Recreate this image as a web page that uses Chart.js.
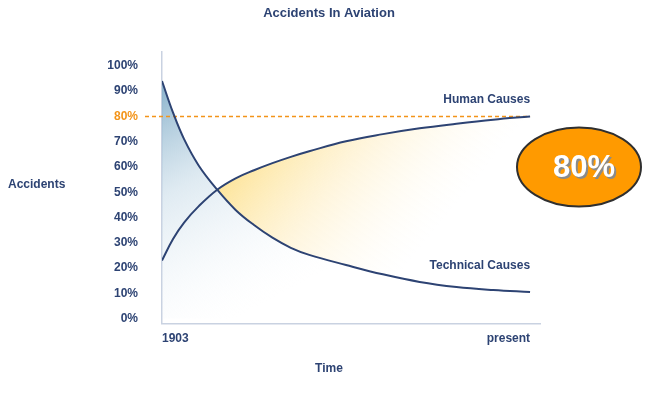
<!DOCTYPE html>
<html>
<head>
<meta charset="utf-8">
<title>Accidents In Aviation</title>
<script src="https://cdn.jsdelivr.net/npm/chart.js@4/dist/chart.umd.min.js"></script>
<style>
    html, body { margin: 0; padding: 0; background: #ffffff; }
    #wrap { width: 651px; height: 393px; }
</style>
</head>
<body>
<div id="wrap"><canvas id="chart" width="651" height="393"></canvas></div>
<script>
// Values (time is 0 = 1903 .. 100 = present)
const timeX = [0, 3, 6, 10, 15, 20, 25, 30, 35, 40, 50, 60, 70, 80, 90, 100];
const technicalCauses = [94, 81.5, 71, 60.5, 51, 43, 37, 32, 28, 25.2, 21.2, 17.5, 14.5, 12.5, 11.3, 10.5];
const humanCauses = [23, 31.5, 38, 44.5, 51, 55.5, 58.7, 61.5, 64, 66.2, 70.2, 73, 75.3, 77.1, 78.7, 80];
const xTicks = [0, 100];
const xTickLabels = ['1903', 'present'];
const yTicks = [0, 10, 20, 30, 40, 50, 60, 70, 80, 90, 100];
const highlightValue = 80;

const NAVY = '#2d4373';
const ORANGE = '#f39419';
const AXIS = '#c9d2e1';
const FONT = "'Liberation Sans', Arial, sans-serif";

function toPoints(values) {
    return values.map((v, i) => ({ x: timeX[i], y: v }));
}

function blueFill(ctx) {
    const chart = ctx.chart;
    if (!chart.chartArea) return 'rgba(0,0,0,0)';
    const xs = chart.scales.x, ys = chart.scales.y;
    const g = chart.ctx.createLinearGradient(xs.getPixelForValue(0), ys.getPixelForValue(90),
        xs.getPixelForValue(30), ys.getPixelForValue(8));
    g.addColorStop(0, 'rgba(125, 170, 198, 0.85)');
    g.addColorStop(0.4, 'rgba(185, 210, 226, 0.45)');
    g.addColorStop(1, 'rgba(240, 245, 250, 0)');
    return g;
}

function yellowFill(ctx) {
    const chart = ctx.chart;
    if (!chart.chartArea) return 'rgba(0,0,0,0)';
    const xs = chart.scales.x, ys = chart.scales.y;
    const g = chart.ctx.createLinearGradient(xs.getPixelForValue(18), ys.getPixelForValue(60),
        xs.getPixelForValue(60), ys.getPixelForValue(10));
    g.addColorStop(0, 'rgba(253, 226, 145, 0.95)');
    g.addColorStop(0.45, 'rgba(254, 238, 195, 0.6)');
    g.addColorStop(1, 'rgba(255, 250, 235, 0)');
    return g;
}

// Extra drawing: horizontal y label, 80% dashed line, series names, badge
const decorations = {
    id: 'decorations',
    beforeDatasetsDraw(chart) {
        const { ctx } = chart;
        const xs = chart.scales.x, ys = chart.scales.y;
        const yy = ys.getPixelForValue(highlightValue);
        ctx.save();
        ctx.strokeStyle = ORANGE;
        ctx.lineWidth = 1.5;
        ctx.setLineDash([4, 3]);
        ctx.beginPath();
        ctx.moveTo(145, yy);
        ctx.lineTo(xs.getPixelForValue(100), yy);
        ctx.stroke();
        ctx.restore();
    },
    afterDraw(chart) {
        const { ctx } = chart;
        const xs = chart.scales.x, ys = chart.scales.y;
        ctx.save();
        ctx.fillStyle = NAVY;
        ctx.font = 'bold 12px ' + FONT;
        ctx.textBaseline = 'middle';
        ctx.textAlign = 'left';
        ctx.fillText('Accidents', 8, 185);

        const xr = xs.getPixelForValue(100);
        ctx.textAlign = 'right';
        ctx.fillText('Human Causes', xr, ys.getPixelForValue(humanCauses[humanCauses.length - 1]) - 17);
        ctx.fillText('Technical Causes', xr, ys.getPixelForValue(technicalCauses[technicalCauses.length - 1]) - 26);

        // orange badge
        const cx = 579, cy = 167;
        ctx.beginPath();
        ctx.ellipse(cx, cy, 62, 39.5, 0, 0, Math.PI * 2);
        ctx.fillStyle = '#ff9a00';
        ctx.fill();
        ctx.lineWidth = 2;
        ctx.strokeStyle = '#2f2f2f';
        ctx.stroke();

        ctx.font = 'bold 31px ' + FONT;
        ctx.textAlign = 'center';
        ctx.fillStyle = '#8a8a8a';
        ctx.fillText('80%', cx + 7, cy + 3);
        ctx.fillStyle = '#ffffff';
        ctx.fillText('80%', cx + 5, cy + 1);
        ctx.restore();
    }
};

new Chart(document.getElementById('chart'), {
    type: 'line',
    data: {
        datasets: [
            {
                label: 'Technical Causes',
                data: toPoints(technicalCauses),
                borderColor: NAVY,
                borderWidth: 2,
                backgroundColor: blueFill,
                fill: 'origin',
                pointRadius: 0,
                tension: 0.4
            },
            {
                label: 'Human Causes',
                data: toPoints(humanCauses),
                borderColor: NAVY,
                borderWidth: 2,
                backgroundColor: yellowFill,
                fill: { target: 0, below: 'rgba(0,0,0,0)' },
                pointRadius: 0,
                tension: 0.4
            }
        ]
    },
    options: {
        responsive: false,
        animation: false,
        layout: { padding: { left: 7, right: 0, top: 0, bottom: 0 } },
        plugins: {
            legend: { display: false },
            tooltip: { enabled: false },
            filler: { drawTime: 'beforeDatasetsDraw' },
            title: {
                display: true,
                text: 'Accidents In Aviation',
                color: NAVY,
                font: { family: FONT, size: 13, weight: 'bold' },
                padding: { top: 6, bottom: 30.4 }
            },
            subtitle: {
                display: true,
                position: 'bottom',
                text: 'Time',
                color: NAVY,
                font: { family: FONT, size: 12, weight: 'bold' },
                padding: { top: 0, bottom: 17 }
            }
        },
        scales: {
            x: {
                type: 'linear',
                min: 0,
                max: 102.7,
                grid: { display: false, drawTicks: false },
                border: { display: true, color: AXIS, width: 1.5 },
                afterBuildTicks: s => { s.ticks = xTicks.map(v => ({ value: v })); },
                afterFit: s => { s.height = 38; },
                ticks: {
                    align: 'inner',
                    padding: 8,
                    color: NAVY,
                    font: { family: FONT, size: 12, weight: 'bold' },
                    callback: v => xTickLabels[xTicks.indexOf(v)]
                }
            },
            y: {
                min: -2,
                max: 105.5,
                grid: { display: false, drawTicks: false },
                border: { display: true, color: AXIS, width: 1.5 },
                afterBuildTicks: s => { s.ticks = yTicks.map(v => ({ value: v })); },
                afterFit: s => { s.width = 155; },
                ticks: {
                    padding: 24,
                    color: c => c.tick && c.tick.value === highlightValue ? ORANGE : NAVY,
                    font: { family: FONT, size: 12, weight: 'bold' },
                    callback: v => v + '%'
                }
            },
            // empty right-hand gutter that leaves room for the badge
            gutter: {
                type: 'linear',
                position: 'right',
                grid: { display: false, drawTicks: false },
                border: { display: false },
                ticks: { display: false },
                afterFit: s => { s.width = 111; }
            }
        }
    },
    plugins: [decorations]
});
</script>
</body>
</html>
